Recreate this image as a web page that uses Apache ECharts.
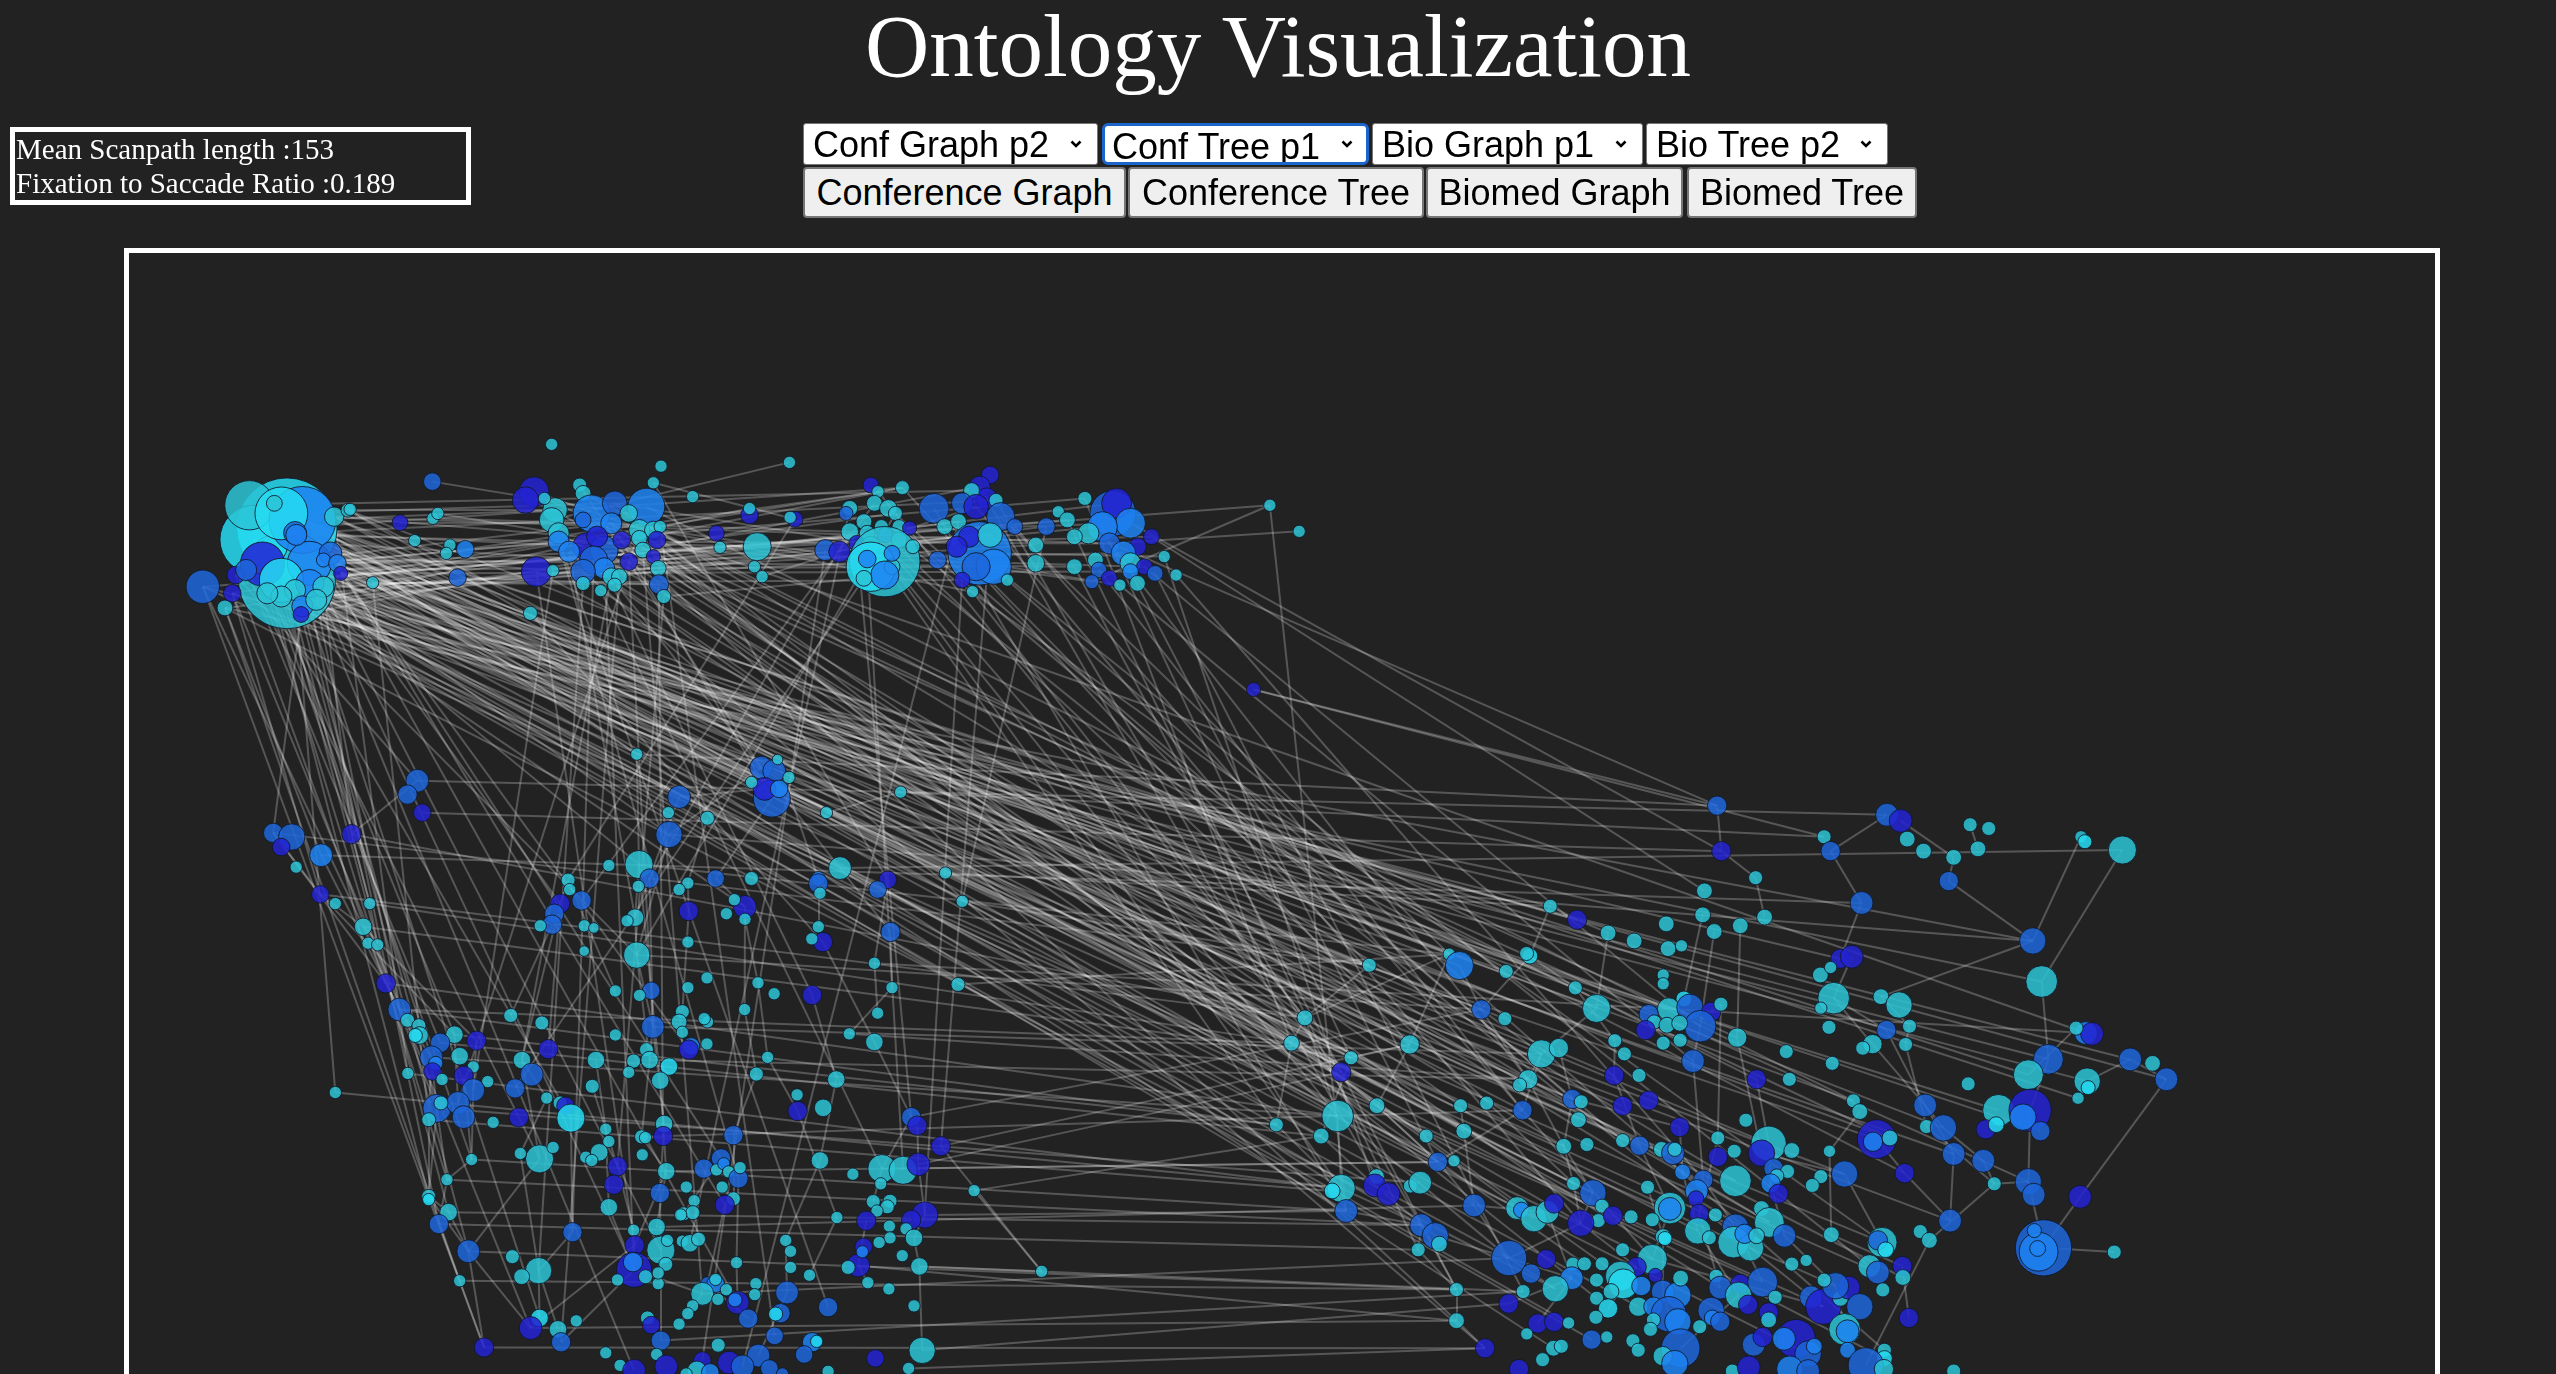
<!DOCTYPE html>
<html>
<head>
<meta charset="utf-8">
<title>Ontology Visualization</title>
<script src="https://cdn.jsdelivr.net/npm/echarts@6/dist/echarts.min.js"></script>
<style>
html, body { margin: 0; padding: 0; width: 100%; height: 100%; background: #222222; overflow: hidden; }
#chart { position: absolute; left: 0; top: 0; width: 2556px; height: 1374px; }
h1 { position: absolute; left: 0; right: 0; top: 2px; margin: 0; text-align: center; color: #fff;
     font: normal 89px/89px "Liberation Serif", "Times New Roman", serif; }
.info { position: absolute; left: 10px; top: 127px; width: 449px; height: 68px; border: 5px solid #fff;
        padding: 0 1px; color: #fff; font: 29px/34px "Liberation Serif", "Times New Roman", serif; white-space: nowrap; }
.frame { position: absolute; left: 124px; top: 248px; width: 2306px; height: 1300px; border: 5px solid #fff; }
.ctl { position: absolute; box-sizing: border-box; font: 36px "Liberation Sans", Arial, sans-serif; color: #000; margin: 0; }
select.ctl { -webkit-appearance: none; appearance: none; border: 1px solid #767676; border-radius: 3px; padding: 0 0 0 9px;
    background: #fff url("data:image/svg+xml;utf8,<svg xmlns='http://www.w3.org/2000/svg' width='12' height='8'><polyline points='1.5,1.5 6,6 10.5,1.5' fill='none' stroke='black' stroke-width='2.6'/></svg>") no-repeat right 15px center; }
select.focus { border: 3px solid #1a66cc; border-radius: 6px; padding-left: 7px; background-position: right 13px center; }
button.ctl { background: #efefef; border: 2px solid #767676; border-radius: 4px; padding: 0; }
</style>
</head>
<body>
<div class="frame"></div>
<div id="chart"></div>
<h1 id="title"></h1>
<div class="info" id="info"></div>
<select class="ctl" id="s0" style="left:803px;top:123px;width:295px;height:42px"></select>
<select class="ctl focus" id="s1" style="left:1102px;top:123px;width:267px;height:42px"></select>
<select class="ctl" id="s2" style="left:1372px;top:123px;width:271px;height:42px"></select>
<select class="ctl" id="s3" style="left:1646px;top:123px;width:242px;height:42px"></select>
<button class="ctl" id="b0" style="left:803px;top:167px;width:323px;height:51px"></button>
<button class="ctl" id="b1" style="left:1128px;top:167px;width:296px;height:51px"></button>
<button class="ctl" id="b2" style="left:1426px;top:167px;width:257px;height:51px"></button>
<button class="ctl" id="b3" style="left:1687px;top:167px;width:230px;height:51px"></button>
<script>
// texts
var titleText = "Ontology Visualization";
var infoLines = ["Mean Scanpath length :153", "Fixation to Saccade Ratio :0.189"];
var selectLabels = ["Conf Graph p2", "Conf Tree p1", "Bio Graph p1", "Bio Tree p2"];
var buttonLabels = ["Conference Graph", "Conference Tree", "Biomed Graph", "Biomed Tree"];

// fixation colours
var palette = ["#2cc4d6", "#26dcf2", "#1d66da", "#1e84f2", "#2323d4"];

// fixations [x, y, diameter, colour] in picture units (1568 x 843)
// top strip
var topStrip = [
[176,324,57,1],[176,356,55,0],[156,331,39,1],[153,310,28,0],[185.5,319,38,3],[161,346,25,4],[189.8,345.6,25,3],[172.6,315,30,1],
[172.6,356,25,1],[181,327,13,2],[202.7,339.5,13,2],[198.4,343.6,8,3],[207,345.6,10,3],[209,351.8,8,4],[205,317,11,0],[213.5,313,8,0],
[168.3,308.8,9,0],[190,358,16,3],[181,362,12,0],[185.5,372,12,3],[184.7,377,9,4],[138,373,9,0],[124.4,360,19,2],[142.5,364,10,4],
[144.6,352.8,10,4],[198.4,360,12,0],[194,368,12,0],[172.6,366,12,0],[164,364,12,0],[151,349.7,12,2],[181.8,328.2,12,3],[228.6,357.5,7,0],
[214.8,312.5,7,0],[245.4,320.7,9,4],[265.2,295.5,10,2],[254.4,331.7,7,0],[265.6,318,7,0],[268.6,315,7,0],[276,334.4,7,0],[273.8,339.5,7,0],
[285.4,337,10,3],[280.7,354.4,10,2],[338.4,272.6,7,0],[405.5,286,7,0],[484.3,283.7,7,0],[400.8,296.2,7,0],[424.9,304.7,7,0],[325.4,376.3,8,0],
[327.6,301.7,17,4],[322.4,306.8,15,4],[340.5,312.9,14,0],[334,305.8,7,0],[355.6,297.6,8,0],[357.7,302.7,9,0],[362.9,315,21,3],[377.1,308.8,14,2],
[396.5,310.9,21,3],[338.4,319,14,0],[342.7,327.2,12,0],[357.7,319,9,2],[375,321.1,12,3],[385.7,315,10,0],[392.2,325.2,12,0],[400.8,325.2,10,0],
[405,323.1,7,0],[403,331.3,10,4],[342.7,332.3,12,3],[360,335.4,16,4],[370.6,337.5,16,2],[366.3,329.3,12,4],[349.1,338.5,12,3],[381.4,331.3,10,4],
[392.2,330.3,9,0],[394.3,337.5,9,0],[400.8,341.5,8,4],[385.7,344.6,10,4],[403.8,348.7,9,0],[364.2,343.6,16,2],[370.6,348.7,12,3],[357.7,350.7,14,2],
[375,353.8,10,0],[380,353.8,9,0],[377,359,8,0],[357.7,358,8,0],[368.5,362.4,7,0],[404.2,358.5,11,2],[407.2,366,8,0],[329,350.7,17,4],
[339.2,350.1,7,0],
[459.8,316,10,4],[459.8,312,7,0],[439.5,327.2,9,4],[464.5,335.4,16,0],[441.7,335.8,7,0],[462.8,347.7,7,0],[467.5,353.8,7,0],[487.7,318.6,9,4],
[484.7,317.4,7,0],
[534.2,297.6,9,4],[538.6,301.7,7,0],[553.6,299.2,8,0],[521.3,311.9,9,0],[519,315,8,2],[536.4,308.8,9,0],[545,311.9,10,0],[549.3,315,8,0],
[530,320,9,0],[540.7,323.1,8,0],[551.5,323.1,8,0],[558,324,8,4],[521.3,326.2,10,0],[532,327.2,9,0],[543,328.3,9,2],[506.3,337.5,12,2],
[514.9,338.5,12,4],[525.6,333.4,9,4],[534.2,334.4,10,0],[551.5,331.3,9,0],[542.8,344.6,40,0],[534.2,347.7,28,1],[532,343,10,3],[547.2,347.7,9,0],
[547.2,339.5,9,3],[560,335.4,8,0],[542.8,352.8,16,3],[530,354.8,9,0],
[573,311.9,17,2],[607.4,291.4,10,4],[601,298.6,12,4],[605.3,305.8,12,4],[596,301,9,0],[611,307,8,0],[590.2,308.8,12,2],[598.8,310.9,14,4],
[579.5,323.1,9,0],[588,320,9,0],[613.9,317,16,2],[622.5,323.1,9,2],[601,339.5,36,3],[594.5,329.3,12,4],[607.4,328.3,14,0],[586.9,335.4,12,4],
[609.6,347.7,20,3],[598.8,347.7,16,2],[575.2,343.6,10,2],[590.2,355.9,9,4],[596.6,363,7,0],[618,355.9,7,0],[635.4,345.6,10,0],[635.4,334.4,9,0],
[641.9,323.1,10,2],[649.2,314,7,0],
[665.5,305.8,8,0],[682.7,315,26,2],[685,308.8,17,4],[693.5,321,17,3],[676.3,323.1,17,3],[667.7,327.2,12,0],[654.8,319,9,0],[659.1,329.3,9,0],
[680.6,333.4,12,2],[697.8,335.4,10,4],[706.4,329.3,9,4],[689.2,339.5,14,3],[672,343.6,9,0],[659.1,347.7,9,0],[674.1,349.7,9,2],[693.5,345.6,12,0],
[702.1,347.7,9,4],[680.6,354.8,9,4],[693.5,350.7,9,3],[697.8,357.9,9,0],[687,359,7,0],[708.6,351.8,9,2],[714.2,341.5,7,0],[721.5,352.8,7,0],
[669.8,356.9,8,2],
[779,310,7,0],[797,326,7,0],[769,423,8,4]
];

// lower left group
var lowerLeft = [
[390.6,462.7,7,0],[467,471,13,2],[475,473,13,2],[477,466,6,0],[473.5,490,21,2],[469,484,13,4],[478,484,10,3],[461,480,7,0],
[484,477,7,0],[552.5,486,7,0],[256,479,13,2],[250,487.5,11,2],[259,498.6,10,4],[416.6,489,13,2],[410,498.6,7,0],[434,502,8,0],
[507,498.6,7,0],[167.6,511,11,2],[179,513.5,15,2],[172.5,519.7,10,4],[197,524.7,13,3],[181.7,532,7,0],[215.6,511.8,11,4],[410.4,512,15,2],
[392,530.4,16,0],[398.5,539,11,2],[391.6,543.8,7,0],[373.5,531,7,0],[515.3,532.6,13,0],[580,535.6,7,0],[544.6,539.8,10,4],[538.4,545.8,10,2],
[439,539,10,2],[461,539,8,0],[422,541.8,7,0],[416.6,545.8,7,0],[348.5,540,8,0],[349.5,545.8,7,0],[502,539,8,3],[502,542,11,2],
[503,548,7,0],[196.5,548.7,10,4],[205.7,554.4,7,0],[226.8,554.4,7,0],[457,556.4,13,4],[450.5,552,7,0],[445.6,560.6,7,0],[457,564,7,0],
[422.5,559,11,4],[343.6,554.4,11,4],[356.8,552.5,11,2],[340,560.6,11,2],[338.7,567.3,11,2],[331.4,568,7,0],[389.6,563,10,0],[384.7,565,7,0],
[358.4,568,7,0],[364.3,569.3,6,0],[358.4,583.5,6,0],[590.3,553,7,0],[546.3,571.8,11,2],[502,568.6,7,0],[504.8,578,11,4],[498,576,7,0],
[222.8,568.6,10,0],[225.8,578.7,7,0],[231.7,579.7,7,0],[390.6,586,15,0],[422,578,7,0],[536.4,591,7,0],[236.7,603.3,11,4],[433.7,600,7,0],
[377.5,608,7,0],[399.5,607.8,10,2],[392.3,610.7,7,0],[422,606,7,0],[465,603,7,0],[474.9,609.7,7,0],[498.2,610.5,11,4],[547.2,606,7,0],
[587.7,604,8,0],[538.4,621.6,7,0],[456.8,619.4,7,0],[418.6,620.7,8,0],[416.6,627,9,0],[434,627,7,0],[418.6,633.3,7,0],[432,625,7,0],
[245,619.4,13,2],[250,626,8,0],[257,629.3,8,0],[257.4,635.3,10,0],[254.8,635.3,8,1],[313.3,623,8,0],[332.4,627.6,8,0],[400.5,630,13,2],
[377.5,635,7,0],[521,634.3,7,0],[536.4,639.3,10,0],[278.8,634.8,10,0],[270,639.8,11,2],[292.3,638.5,11,4],[336.4,643.7,11,4],[423.9,642,10,3],
[422.5,644,11,4],[433.7,640.5,7,0],[396.6,644,8,0],[470.9,648.7,7,0],[264.6,648.7,13,2],[267.3,652.4,8,3],[265.3,657.4,10,4],[282,648,10,0],
[290.3,654.6,7,0],[320.2,650.4,10,0],[326.2,659.3,13,2],[365.6,650.4,10,0],[388.7,651,8,0],[398.5,650.4,10,0],[410.4,654.4,10,1],[385.7,657.9,7,0],
[250.2,658.6,7,0],[284.4,660,11,4],[271.2,662.3,7,0],[464,659,8,0],[513,662.3,10,0],[205.7,670.3,7,0],[405,663,10,0],[299.2,663.6,7,0],
[290.3,668.8,13,2],[316,667.8,11,2],[363.3,666.5,8,0],[489,671.7,7,0],[335.4,673.7,7,0],[343.6,676.7,8,0],[346.9,678.4,10,4],[350.2,686,16,1],
[268,680,16,2],[281,676.7,13,2],[284.4,685.4,13,2],[270.5,676.7,8,0],[263,687,8,0],[318.3,685.6,11,4],[302.5,688.6,7,0],[489.3,681.7,11,4],
[505,679.7,10,0],[559,685.4,11,2],[562.7,690.6,11,4],[577.2,703.2,11,4],[407.4,689.6,10,0],[406.8,697,11,4],[371.6,692.8,7,0],[373.5,700.3,7,0],
[393.6,697.5,8,0],[396,698,7,0],[449.9,696.5,11,2],[331,711,16,0],[339.3,704,7,0],[319.2,707.7,7,0],[359.4,710,7,0],[367.6,707,10,0],
[363,712,7,0],[289.3,711.4,7,0],[394,708.5,7,0],[378.8,715.6,11,4],[376.5,726.8,11,4],[442.3,710.7,11,2],[431.8,717,11,2],[439.6,717.8,7,0],
[444,714,7,3],[447,719,7,0],[453,723,11,2],[454,716.4,7,0],[503,712,10,0],[541,717,16,0],[554,718,16,0],[563.4,714.4,13,4],
[408.7,718.6,10,0],[523.2,720.4,7,0],[540.3,726.3,7,0],[597.6,730.5,7,0],[274.2,723.8,7,0],[404.8,732,11,2],[421,728.3,7,0],[425.8,736.7,7,0],
[443,728.3,7,0],[449.9,735.5,8,0],[444.6,739.2,11,4],[263,734,8,0],[263,736,7,1],[535.7,737.2,8,0],[546,737,8,0],[544.3,740.4,8,0],
[538,743,7,0],[567.3,745.4,15,4],[559,748.4,11,4],[531.4,749,11,4],[373.5,740.7,10,0],[419.3,744.7,8,0],[425,744,8,0],[417.6,745.4,7,0],
[513.4,747,7,0],[275.2,743.7,10,0],[269.2,751,11,2],[351.2,756,11,2],[388.7,754.8,7,0],[402.8,752.8,10,0],[545.6,752.3,7,0],[555.8,754,7,0],
[560.7,759.5,10,0],[546,759.5,7,0],[539.3,762.3,7,0],[389.3,764,11,4],[405.4,767,16,0],[409.4,761,7,0],[418.6,761.5,7,0],[423.2,762.8,10,0],
[428.5,760.3,8,0],[482,761,7,0],[485,767.7,7,0],[287.3,767.7,13,2],[529.8,765,10,4],[526.5,776.4,13,4],[529,768,7,3],[520.3,777.6,8,0],
[553.5,770.4,7,0],[314.3,771,8,0],[389,779,20,4],[388.3,774.4,11,3],[396,783.3,8,0],[378.8,785.3,7,0],[403.8,787.6,7,0],[408.4,775.7,8,0],
[403.8,781,7,0],[451.8,774.7,7,0],[485,777.6,7,0],[564,777,10,0],[330.4,779.6,15,0],[320,783.3,9,0],[282,785.8,7,0],[496.6,782.4,7,0],
[532.4,787,7,0],[545.3,790.8,7,0],[434,787.6,8,2],[439,787.6,10,3],[430.8,793.8,13,0],[445.6,791.3,7,0],[440.4,797.2,7,0],[439,785,7,0],
[463.7,787.6,7,0],[463,794.3,7,0],[482.8,793,13,2],[452.5,799.2,13,4],[450.9,797.5,8,3],[508,802,11,2],[560.7,801.2,7,0],[478.8,805.7,11,2],
[475.8,806.2,8,1],[459,809,11,2],[424.9,801.2,7,0],[421.9,806,7,0],[416.6,812.4,7,0],[331,808.6,10,1],[325.5,814.8,13,4],[342.3,815.6,10,0],
[353.5,810.4,7,0],[344.2,823.5,11,2],[397.2,808.6,8,0],[399.5,813,10,4],[405.4,822.5,11,2],[402.8,831,7,0],[475.2,819.6,10,2],[440.6,825.3,8,0],
[498.2,823.5,11,3],[501,823,7,1],[493.3,831,10,2],[565.7,828.5,15,0],[537,833.4,10,4],[296.9,826.7,11,4],[371.6,830,7,0],[465.3,831.7,13,2],
[380.4,837.7,7,0],[389,841,13,4],[408.7,838.4,13,4],[430.8,834.7,10,4],[427.5,841,11,0],[447.2,836,13,4],[455.5,838.4,13,2],[472,839.6,10,2],
[480,843,7,2],[508,841.4,7,0],[557.4,839.6,7,0],[420.9,843,7,0],[435.7,842,10,3],[639,780,7,0]
];

// lower right group
var lowerRight = [
[1053.4,494.3,11,2],[1157.6,499.9,13,2],[1166,503.6,13,4],[1208.6,506,8,0],[1220,508.3,8,0],[1119,513.4,8,0],[1056,522.2,11,4],[1123,522.2,11,2],
[1170,514.8,9,0],[1180,522.2,9,0],[1198.5,526,9,0],[1213.4,520.8,9,0],[1276.6,513.4,7,0],[1279,516.4,8,1],[1302,521.5,16,0],[1195.5,540.6,11,2],
[1077,538.5,8,0],[1045.6,546.6,9,0],[1142,554,13,2],[951,556,8,0],[967.5,564.3,11,4],[1044.5,561.3,9,0],[1022.2,566.8,9,0],[1051.6,571.5,9,0],
[1067.6,568,9,0],[1082.5,562.7,9,0],[986.5,572.4,9,0],[1002.5,577.3,9,0],[1023.3,582,9,0],[1031.5,580.3,7,0],[1247,577.3,15,2],[1129,588.2,11,4],
[1136,587,13,4],[889,585.4,7,0],[895.3,592.4,16,3],[840,592.2,8,0],[938.5,586.6,9,1],[936.5,585,8,0],[924,596,8,0],[1116.7,598.2,9,0],
[1123,593.6,7,0],[1252.5,602.2,18,0],[1020.3,598.2,7,0],[1020.3,603.6,7,0],[966.4,606.1,8,0],[1124.9,612.4,18,0],[979.4,618.7,16,0],[1153.9,611.5,9,0],
[1165,616.6,15,0],[1033,612.9,9,1],[1023.7,619.2,13,0],[1036.7,618,15,2],[1049.7,620.8,11,4],[1043,629.6,18,2],[1011.4,622.2,11,2],[1014.8,627,8,0],
[1022.6,629,9,0],[1030.4,627.8,9,0],[1009.5,632,11,4],[1055.7,616.1,8,0],[1117,618.5,7,0],[800.5,624.5,9,0],[908.7,619.4,11,2],[923.2,625,8,0],
[1157.2,632,11,2],[1171.4,629.6,8,0],[1122,630.3,8,0],[1279.6,633.8,13,3],[1283.4,634.3,13,4],[1273.6,630.8,8,0],[792.3,640,9,0],[864.8,640.8,11,0],
[990.6,638.5,8,0],[996.5,646.6,8,0],[1020.3,640,8,0],[1030.7,638.2,8,0],[1065.7,636.6,11,0],[1148.7,640.6,11,0],[1142.7,643.1,8,0],[1169,640.8,8,0],
[1095.8,645.2,8,0],[945.6,646.6,16,0],[956.3,643,11,0],[828.8,649,8,0],[822.8,657.8,11,4],[1256.6,649.9,17,2],[1244.3,659.4,17,0],[1306.8,650,13,2],
[1320.5,652.4,9,0],[1329,662.2,13,2],[1038.6,651,13,2],[1124,652.4,8,0],[990.2,659.8,11,4],[1005.5,659.8,8,0],[1077.6,662.2,11,4],[1097.7,662.2,8,0],
[937.4,662.2,11,0],[932.2,665.7,8,0],[1280.4,663.3,15,0],[1281,667.3,8,1],[1274.8,673.8,7,0],[1207.4,665,8,0],[964.5,674.3,11,2],[970,676,8,0],
[995.4,678.5,11,4],[1011.4,675.2,11,4],[1137,675.4,8,0],[1140.9,682,9,0],[1181,678.2,13,2],[1226,681.2,18,0],[1245.4,681.2,24,4],[1241,685.4,15,3],
[1251.7,694,11,2],[1218.2,692.9,11,4],[1224.6,690,9,1],[820.6,684.7,18,0],[844.7,678.4,9,0],[896,678.4,8,0],[912,676.8,8,0],[934,681.2,11,2],
[968.3,687,9,0],[783,690.1,8,0],[810.5,697,9,0],[874.9,697,8,0],[898,694,9,0],[1030.4,691.5,11,4],[1071,687.3,8,0],[1151.3,698.9,22,4],
[1149,700.5,11,3],[1159.4,698.2,9,0],[1181.8,691.2,8,0],[1192.2,692,15,2],[1085,701.7,20,0],[1080.6,707.5,15,4],[1099.2,705.9,9,0],[1053.8,698.2,8,0],
[1063.9,706.3,8,0],[1053.8,709.8,11,4],[959.3,703.3,9,0],[973.5,702.2,8,0],[995.4,699.8,8,0],[1005.8,702.9,11,2],[1019.2,705.2,9,0],[1026.3,707.5,13,2],
[1027.4,705.2,8,0],[882,712.9,11,2],[892,712.2,7,0],[1122.3,706.3,7,0],[1198.5,708,13,2],[1216.7,712.2,13,2],[1032.2,719.1,9,3],[1044.9,723.8,11,2],
[1064.6,724.5,18,0],[1040.8,730.7,13,3],[1040.4,735.4,9,4],[1088,716.8,11,2],[1096.6,718.7,8,0],[1090,721.5,8,0],[1086.2,726.1,11,3],[1091,732.4,11,4],
[1131.6,720.3,15,2],[1168.4,719.8,11,4],[1117,721.9,8,0],[1111.8,727.3,8,0],[1223.4,726.3,8,0],[1244.3,725,15,2],[1247.6,733,13,2],[1276,734.3,13,4],
[822.8,729.1,16,0],[817.2,730.7,9,1],[844.4,721.9,9,0],[843.3,727.3,13,4],[851.8,732.6,13,4],[865.2,727.7,8,0],[871.2,725.6,13,0],[965.3,726.1,8,0],
[977.2,731.9,15,2],[1010.7,728.4,8,0],[825.8,743,13,2],[904.3,739.6,13,2],[930.7,741.2,13,0],[933.3,742.4,9,3],[941,747.7,15,0],[949.3,743.6,13,0],
[953.4,738.4,11,4],[982.8,740,8,0],[980.5,748.9,8,0],[969.7,750.5,15,4],[989.5,745.9,11,4],[1024.4,741.2,18,0],[1024.4,741.7,13,3],[1000.6,746.6,8,0],
[1013.6,748.4,8,0],[1042.3,744.7,11,4],[1052.3,745.4,8,0],[1080.6,741.5,9,0],[1085.4,750,17,0],[1041.5,755.2,15,0],[1048.6,759.4,8,0],[1064.6,752.9,15,2],
[1063.5,762.1,18,0],[1073.9,765.6,15,0],[1070.2,757,11,3],[1077.6,758.2,9,0],[1020.3,758.7,9,0],[1021.4,759.9,8,1],[1094.7,758.2,13,2],[1123.4,757.5,9,0],
[1154.6,762.2,17,0],[1152,761,11,2],[1156.8,766.8,9,1],[1178,755.6,8,0],[1183.6,761,9,0],[1196.3,748.9,13,2],[871.9,751.7,13,2],[880.5,758.2,15,2],
[883,763.3,9,0],[870,766.8,8,0],[925.8,771.9,20,2],[948.5,772.6,11,4],[939.2,781.4,11,2],[893.5,791.2,8,0],[995.4,766.8,8,0],[964.9,775.6,8,0],
[972,775.4,8,0],[982.8,775.4,8,0],[1013.6,772.6,17,0],[1004,777.3,11,4],[1015.5,782.5,8,4],[964.2,784.2,13,3],[954.1,790.7,15,0],[994,783,17,0],
[995.8,787.7,17,1],[988.3,792.4,9,0],[979.4,785.4,8,0],[1006.9,789,11,3],[1020,792.4,13,2],[1029.3,794.7,15,3],[1031,784.2,9,0],[1052.7,783,8,0],
[1055.3,790,13,2],[1067.6,787.7,11,4],[1081.3,786.6,17,2],[1066.5,794.7,15,0],[1089,795.9,8,0],[1111,795.9,13,2],[1118.5,801.7,20,4],[1129,796.6,9,0],
[1134,790,13,4],[1126,788.9,15,2],[1119,785.4,8,0],[1140.9,801.7,15,2],[1146.8,776.8,13,0],[1152,780.7,13,2],[1167,776.8,11,4],[1167.3,783.8,9,0],
[1155,791.4,8,0],[1171,808.6,11,4],[1099.2,775.6,8,0],[1108,773.3,7,0],[934.4,792.4,8,0],[925.5,799.8,11,4],[979.4,796.5,8,0],[986.5,802.8,11,1],
[979,808.2,8,0],[1005,801.7,11,0],[1014.3,801.7,11,3],[1023.7,806.3,20,2],[1029.3,811,15,3],[1014.3,809.8,8,0],[1049.7,804,15,2],[1050.4,808.6,9,3],
[1055.3,810.9,11,2],[1072.4,800.5,11,4],[1085,805.2,11,4],[1085,809.8,9,0],[1042.7,814,8,0],[893.5,810.3,9,0],[943.3,812,11,4],[953.4,811,11,4],
[962.3,811.7,7,0],[936.6,818.4,7,0],[911,827.2,11,4],[976.4,821.9,11,2],[985.7,820.3,7,0],[1001.7,822.6,8,0],[1005,828.4,8,0],[1012.5,815.6,8,0],
[1031,827.2,22,2],[1020,832,11,0],[1027.4,836.6,15,3],[1075.8,825,13,2],[1081.3,820.3,11,4],[1101.8,821.4,22,4],[1094.4,821.4,13,3],[1109.2,830.7,15,2],
[1113,826,9,3],[1131.6,815.6,18,0],[1133.4,816.8,13,3],[1133.4,828.4,9,3],[1156,828.4,8,0],[1156,833.5,9,1],[1144.6,837.7,20,2],[1155.7,840,11,0],
[953,827.2,9,0],[957.8,826,8,0],[946.3,834.2,8,0],[931.8,840,11,4],[1062.7,841.2,8,0],[1072.8,838.9,13,4],[1098,840,15,3],[1109.2,841.2,13,2],
[1198.5,841.2,8,0],[1297,768.2,8,0],[1253.6,765.6,32,2],[1250.6,768,22,3],[1248,755,8,3],[1250,766,9,3]
];

// saccades as index pairs
var stripLinks = [[5,60],[2,75],[9,120],[12,140],[14,160],[0,100],[3,130],[7,55],[10,88],[11,165],[13,170],[17,145],[25,118],[26,90],
[29,66],[31,105],[4,50],[8,158],[19,135],[30,92],[60,118],[75,140],[66,160],[70,100],[80,150],[55,172],[86,125],[63,146],[92,121],
[95,133],[110,155],[115,162],[120,168],[138,174],[144,176],[36,110],[40,99],[33,60],[34,61],[1,177],[160,178],[176,177],[45,96],
[37,58],[18,149],[22,112],[44,57],[41,85],[16,39],[6,152],[20,128],[23,100],[27,140],[28,64],[15,50],[21,154],[24,117],[9,131],
[12,163],[14,71],[26,156],[29,143],[31,85]];

var topToLeft = [[20,17],[21,20],[23,41],[22,64],[24,70],[26,88],[27,108],[18,125],[19,136],[28,180],[3,187],[8,201],[20,219],
[21,238],[22,277],[25,23],[26,24],[27,67],[28,135],[29,155],[6,212],[7,226],[16,261],[17,281],[18,13],[19,44],[13,104],[12,165],
[10,186],[11,251],[24,10],[25,22],[29,100],[31,140],[2,161],[4,0],[9,49],[52,1],[60,4],[67,28],[70,54],[75,95],[80,113],[85,149],
[86,163],[84,173],[87,211],[73,244],[64,270],[57,253],[47,62],[45,30],[77,203],[83,236],[88,128],[78,78],[66,170],[105,67],[110,25],
[115,145],[120,174],[101,215],[113,283],[140,147],[145,193],[150,59],[135,286],[125,129],[103,50],[96,36],[1,43],[5,99],[14,120],
[30,202],[23,262],[62,137],[68,226],[81,265]];

var topToRight = [[0,35],[1,61],[2,70],[3,83],[4,115],[5,121],[6,122],[7,168],[8,178],[9,33],[10,34],[11,38],[12,62],[13,81],
[14,96],[15,119],[16,145],[17,179],[18,214],[19,218],[20,30],[21,41],[22,85],[23,98],[24,87],[25,109],[26,31],[27,45],[28,127],
[29,160],[30,132],[31,152],[0,176],[2,189],[4,46],[6,20],[8,19],[50,71],[55,116],[60,84],[65,117],[70,123],[75,124],[80,138],
[85,182],[58,196],[62,218],[68,231],[72,262],[79,282],[54,277],[99,61],[104,102],[108,140],[112,175],[117,208],[122,246],[128,170],
[133,187],[137,226],[142,252],[147,300],[153,6],[157,0],[162,17],[168,53],[172,90],[175,151],[179,5],[179,0],[177,178],[173,260],
[165,221],[158,217],
[0,44],[1,50],[2,63],[3,72],[4,92],[5,102],[6,104],[7,120],[8,138],[9,141],[10,145],[11,175],[12,176],[13,180],[14,185],[15,187],
[16,197],[17,199],[18,208],[19,213],[20,226],[21,230],[22,242],[23,246],[24,249],[25,253],[26,265],[27,280],[28,283],[29,295],
[30,301],[31,304],[3,86],[5,89],[7,100],[9,106],[11,112],[13,129],[15,131],[17,148],
[48,67],[51,76],[53,94],[56,106],[59,129],[61,152],[63,161],[69,165],[71,186],[74,196],[76,203],[82,224],[84,240],[87,255],
[100,71],[106,84],[111,115],[116,121],[121,168],[126,178],[131,214],[136,33],[141,35],[146,61],[152,70],[156,83],[160,96],[166,119],
[170,145],[174,171]];

var leftToRight = [[10,1],[12,6],[20,18],[28,14],[41,61],[88,70],[99,121],[108,115],[125,168],[136,174],[145,62],[147,71],[175,84],
[179,122],[193,178],[201,214],[219,221],[221,277],[235,260],[275,261],[290,282],[59,35],[80,33],[97,96],[173,145],[29,19],[9,5],
[0,0],[23,30],[69,67],[17,35],[22,61],[43,70],[64,83],[70,115],[88,121],[100,122],[120,168],[140,169],[161,178],[180,214],[202,217],
[238,221],[262,277],[277,282],[24,33],[67,62],[95,81],[117,96],[152,119],[176,145],[205,179],[244,218],[268,260]];

var leftLinks = [[0,24],[13,54],[23,67],[24,73],[25,95],[36,72],[49,102],[52,93],[67,117],[73,126],[95,148],[113,155],[115,150],
[126,176],[130,163],[135,203],[148,181],[150,196],[155,219],[163,204],[176,205],[181,212],[196,226],[203,236],[211,262],[212,268],
[219,277],[226,265],[236,261],[44,82],[62,98],[78,124],[82,123],[107,143],[123,154],[124,172],[143,200],[154,185],[165,197],[170,233],
[172,217],[186,242],[195,221],[200,239],[217,250],[233,251],[242,257],[250,279],[28,60],[30,69],[60,79],[69,81],[79,97],[98,145],
[145,173],[173,189],[146,175],[175,193],[193,208],[208,235],[221,240],[235,275],[17,41],[41,64],[64,70],[70,88],[88,108],[108,136],
[136,187],[187,201],[201,219],[101,128],[128,161],[161,180],[10,22],[22,43],[43,66],[9,16],[16,29],[1,23],[4,32],[32,44],[5,13],
[3,38],[38,61],[47,76],[76,107],[15,34],[34,48],[48,83],[179,293],[147,293],[293,235],
[17,70],[20,88],[41,99],[64,101],[88,136],[99,137],[108,140],[121,161],[136,180],[140,187],[180,202],[187,219],[202,238],[219,262],
[238,277],[24,54],[54,67],[67,95],[95,117],[117,152],[152,176],[176,211],[211,226],[226,244],[244,260],[36,49],[49,113],[113,132],
[132,157],[157,236],[236,263]];

var rightLinks = [[0,6],[6,16],[16,25],[1,7],[7,18],[18,31],[2,10],[10,15],[15,30],[3,11],[14,41],[12,30],[19,20],[20,26],[26,46],
[46,81],[81,119],[119,145],[21,49],[23,53],[53,90],[90,151],[151,199],[199,242],[24,76],[76,133],[133,160],[160,208],[32,45],[45,64],
[64,108],[108,148],[148,213],[41,85],[85,110],[110,165],[165,314],[314,313],[87,89],[89,167],[167,314],[34,62],[62,96],[96,138],
[138,176],[176,187],[187,218],[218,230],[33,61],[61,115],[115,168],[168,178],[178,214],[214,221],[36,44],[44,72],[72,92],[92,141],
[141,189],[189,226],[226,246],[71,83],[83,122],[122,171],[171,215],[215,218],[82,102],[102,125],[125,150],[150,197],[197,243],
[243,288],[94,132],[132,158],[158,206],[206,249],[249,297],[127,161],[161,213],[107,147],[147,207],[207,254],[254,257],[177,204],
[204,236],[236,267],[52,59],[59,135],[135,193],[193,240],[116,145],[117,124],[124,179],[179,183],[183,229],[229,278],[98,87],[69,86],
[30,47],[47,65],[65,79],[79,130],[130,164],[164,212],[212,302],
[35,61],[61,70],[70,121],[121,168],[168,214],[214,217],[217,221],[221,277],[277,282],[33,71],[71,116],[116,145],[145,179],[179,218],
[218,229],[229,261],[19,36],[36,62],[62,81],[81,96],[96,102],[102,138],[138,175],[175,187],[187,227],[227,263],[45,77],[77,108],
[108,131],[131,149],[149,164],[164,165],[165,166]];

// page texts
document.getElementById("title").textContent = titleText;
document.getElementById("info").innerHTML = infoLines.join("<br>");
selectLabels.forEach(function (s, i) {
    var o = document.createElement("option");
    o.textContent = s;
    document.getElementById("s" + i).appendChild(o);
});
buttonLabels.forEach(function (s, i) {
    document.getElementById("b" + i).textContent = s;
});

(function () {
    var W = 1568, H = 843;
    var myChart = echarts.init(document.getElementById("chart"));
    // picture units -> screen pixels, slightly enlarged dots
    var k = myChart.getWidth() / W * 1.08;

    var edges = [];
    function link(a, b, pairs) {
        pairs.forEach(function (p) {
            var s = a[p[0]], t = b[p[1]];
            if (!s || !t) return;
            edges.push({ coords: [[s[0], s[1]], [t[0], t[1]]] });
        });
    }
    link(topStrip, topStrip, stripLinks);
    link(topStrip, lowerLeft, topToLeft);
    link(topStrip, lowerRight, topToRight);
    link(lowerLeft, lowerRight, leftToRight);
    link(lowerLeft, lowerLeft, leftLinks);
    link(lowerRight, lowerRight, rightLinks);

    var fixations = topStrip.concat(lowerLeft, lowerRight);

    var option = {
        animation: false,
        backgroundColor: "transparent",
        grid: { left: 0, right: 0, top: 0, bottom: 0 },
        xAxis: { type: "value", min: 0, max: W, show: false },
        yAxis: { type: "value", min: 0, max: H, inverse: true, show: false },
        series: [
            {
                type: "lines",
                coordinateSystem: "cartesian2d",
                silent: true,
                z: 1,
                lineStyle: { color: "#ffffff", opacity: 0.24, width: 2 },
                data: edges
            },
            {
                type: "scatter",
                z: 2,
                silent: true,
                data: fixations,
                symbolSize: function (v) { return v[2] * k; },
                itemStyle: {
                    color: function (p) { return palette[p.value[3]]; },
                    opacity: 0.85,
                    borderColor: "#101828",
                    borderWidth: 1
                }
            }
        ]
    };
    myChart.setOption(option);
})();
</script>
</body>
</html>
